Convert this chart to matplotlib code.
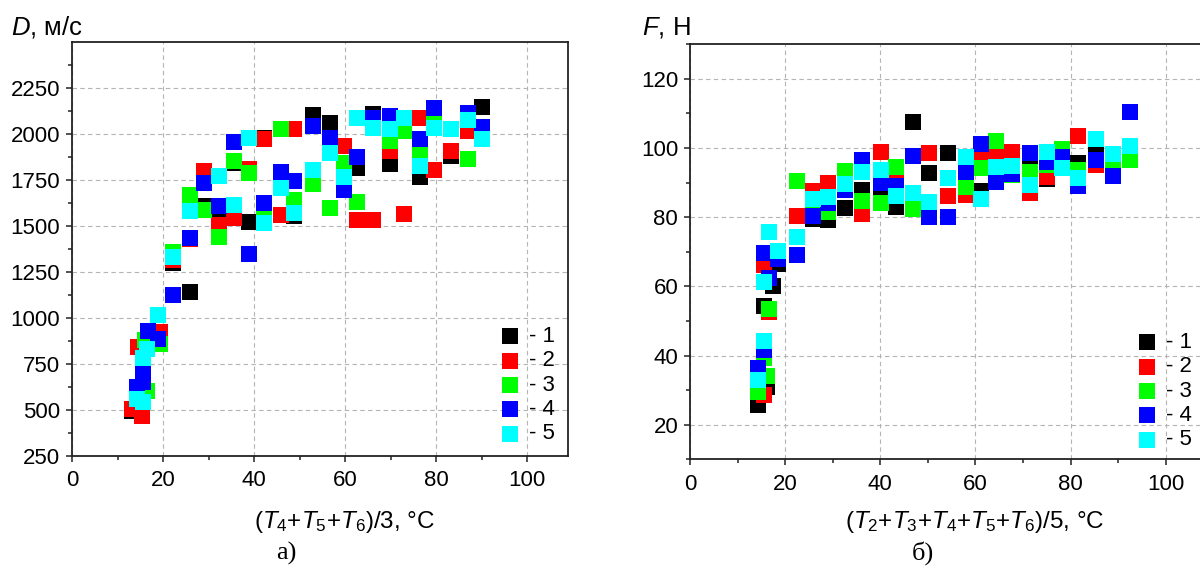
import matplotlib
matplotlib.use('Agg')
import matplotlib.pyplot as plt
import numpy as np

plt.rcParams['font.family'] = ['Liberation Sans', 'DejaVu Sans']
plt.rcParams['mathtext.fontset'] = 'custom'
plt.rcParams['mathtext.rm'] = 'Liberation Sans'
plt.rcParams['mathtext.it'] = 'Liberation Sans:italic'

colors = ['#000000', '#ff0000', '#00ff00', '#0000ff', '#00ffff']
labels = ['- 1', '- 2', '- 3', '- 4', '- 5']

# --- a) D vs (T4+T5+T6)/3
d_x1 = [13.2, 15.5, 19.0, 22.3, 26.0, 29.0, 32.4, 35.5, 39.0, 42.3, 45.9, 48.8, 52.9, 56.6, 62.7, 66.2, 69.9, 76.4, 79.5, 83.2, 90.2]
d_y1 = [495, 640, 880, 1300, 1138, 1605, 1518, 1839, 1518, 1975, 1760, 1555, 2101, 2056, 1815, 2105, 1835, 1763, 2085, 1880, 2143]
d_x2 = [13.2, 15.3, 14.5, 16.5, 19.4, 22.3, 26.0, 29.0, 32.4, 35.5, 39.0, 42.3, 45.9, 48.8, 59.8, 62.7, 66.2, 69.9, 73.0, 76.4, 79.5, 83.2, 87.0]
d_y2 = [505, 466, 840, 870, 925, 1312, 1426, 1799, 1504, 1540, 1810, 1971, 1558, 2025, 1935, 1531, 1531, 1908, 1562, 2083, 1803, 1906, 2015]
d_x3 = [15.5, 16.5, 16.0, 19.4, 22.3, 26.0, 29.0, 32.4, 35.5, 39.0, 42.3, 45.9, 48.8, 52.9, 56.6, 59.8, 62.7, 69.9, 73.0, 76.4, 79.5, 87.0]
d_y3 = [700, 600, 880, 855, 1355, 1667, 1585, 1437, 1851, 1784, 1572, 2025, 1640, 1727, 1594, 1842, 1630, 1960, 2016, 1890, 2100, 1861]
d_x4 = [14.3, 15.6, 15.6, 16.6, 18.9, 22.3, 26.0, 29.0, 32.4, 35.5, 39.0, 42.3, 45.9, 48.8, 52.9, 56.6, 59.8, 62.7, 66.2, 69.9, 76.4, 79.5, 87.0, 90.2]
d_y4 = [621, 652, 720, 928, 884, 1123, 1431, 1730, 1609, 1957, 1346, 1625, 1790, 1745, 2042, 1975, 1694, 1875, 2085, 2096, 1971, 2141, 2110, 2038]
d_x5 = [14.3, 15.7, 15.6, 16.4, 18.9, 22.3, 26.0, 32.4, 35.5, 39.0, 42.3, 45.9, 48.8, 52.9, 56.6, 59.8, 62.7, 66.2, 69.9, 73.0, 76.4, 79.5, 83.2, 87.0, 90.2]
d_y5 = [556, 543, 779, 828, 1015, 1332, 1580, 1770, 1612, 1978, 1516, 1707, 1567, 1803, 1893, 1766, 2083, 2029, 2024, 2083, 1826, 2029, 2025, 2074, 1971]

# --- б) F vs (T2+...+T6)/5
f_x1 = [14.2, 16.2, 15.5, 17.5, 18.6, 25.8, 29.0, 32.5, 36.2, 40.1, 43.3, 46.9, 50.3, 54.2, 61.2, 64.3, 71.5, 75.1, 81.6, 85.3]
f_y1 = [25.6, 31.0, 54.4, 60.0, 66.6, 79.6, 79.2, 82.7, 87.9, 86.6, 83.0, 107.6, 92.9, 98.5, 87.5, 92.5, 95.6, 91.0, 95.8, 99.4]
f_x2 = [15.5, 16.7, 15.5, 22.5, 25.8, 29.0, 36.2, 40.1, 43.3, 50.3, 54.2, 58.0, 61.2, 64.3, 67.7, 71.5, 75.1, 81.6, 85.3, 89.0]
f_y2 = [28.5, 52.5, 66.1, 80.3, 87.5, 89.8, 80.8, 98.8, 91.2, 98.5, 86.2, 86.5, 97.0, 97.8, 99.0, 87.0, 91.7, 103.5, 95.0, 94.6]
f_x3 = [14.2, 16.2, 15.5, 16.7, 22.5, 25.8, 29.0, 32.5, 36.2, 40.1, 43.3, 46.9, 58.0, 61.2, 64.3, 67.7, 71.5, 75.1, 78.3, 81.6, 89.0, 92.4]
f_y3 = [29.5, 34.0, 39.2, 53.6, 90.6, 82.5, 81.4, 93.5, 84.7, 84.0, 94.6, 82.5, 88.6, 94.1, 102.1, 92.2, 93.2, 95.1, 99.7, 93.8, 95.5, 96.5]
f_x4 = [14.2, 15.5, 16.7, 15.5, 18.6, 22.5, 25.8, 29.0, 32.5, 36.2, 40.1, 43.3, 46.9, 50.3, 54.2, 58.0, 61.2, 64.3, 67.7, 71.5, 75.1, 78.3, 81.6, 85.3, 89.0, 92.4]
f_y4 = [36.3, 41.5, 62.3, 69.8, 68.0, 69.2, 80.3, 84.0, 88.0, 96.5, 89.8, 89.0, 97.8, 80.0, 80.0, 93.0, 101.1, 90.3, 92.5, 98.7, 96.0, 97.5, 89.0, 96.5, 91.9, 110.3]
f_x5 = [14.2, 15.5, 15.5, 16.7, 18.6, 22.5, 25.8, 29.0, 32.5, 36.2, 40.1, 43.3, 46.9, 50.3, 54.2, 58.0, 61.2, 64.3, 67.7, 71.5, 75.1, 78.3, 81.6, 85.3, 89.0, 92.4]
f_y5 = [32.9, 44.2, 61.3, 75.8, 70.3, 74.3, 85.4, 85.9, 89.5, 93.2, 93.6, 86.1, 86.9, 84.5, 91.4, 97.5, 85.4, 94.6, 94.9, 89.3, 98.8, 94.1, 91.2, 102.6, 98.3, 100.7]

d_series = [(d_x1, d_y1), (d_x2, d_y2), (d_x3, d_y3), (d_x4, d_y4), (d_x5, d_y5)]
f_series = [(f_x1, f_y1), (f_x2, f_y2), (f_x3, f_y3), (f_x4, f_y4), (f_x5, f_y5)]

fig = plt.figure(figsize=(12, 5.69), dpi=100)
ax1 = fig.add_axes([0.06, 0.1991, 0.4133, 0.7276])
ax2 = fig.add_axes([0.575, 0.1928, 0.4321, 0.7293])


def style(ax, xmaj, xmin, ymaj, ymin, ylim):
    ax.set_xlim(0, 109)
    ax.set_ylim(*ylim)
    ax.set_xticks(xmaj)
    ax.set_xticks(xmin, minor=True)
    ax.set_yticks(ymaj)
    ax.set_yticks(ymin, minor=True)
    ax.grid(True, which='major', color='#b4b4b4', linestyle=(0, (4, 3)), linewidth=0.8)
    ax.set_axisbelow(True)
    ax.tick_params(which='major', direction='out', length=4.5, width=1.1, labelsize=16, color='#222222', pad=4)
    ax.tick_params(which='minor', direction='out', length=2.8, width=1.1, color='#222222')
    ax.tick_params(axis='x', which='major', pad=6)
    for s in ax.spines.values():
        s.set_linewidth(1.3)
        s.set_color('#222222')


for (x, y), c, lab in zip(d_series, colors, labels):
    ax1.scatter(x, y, marker='s', s=118, color=c, linewidths=0, label=lab, zorder=3)
for (x, y), c, lab in zip(f_series, colors, labels):
    ax2.scatter(x, y, marker='s', s=118, color=c, linewidths=0, label=lab, zorder=3)

style(ax1, np.arange(0, 101, 20), np.arange(10, 110, 20), np.arange(250, 2251, 250),
      np.arange(375, 2500, 250), (250, 2500))
style(ax2, np.arange(0, 101, 20), np.arange(10, 110, 20), np.arange(20, 121, 20),
      np.arange(10, 131, 10), (10, 130))

leg_kw = dict(frameon=False, fontsize=16, handlelength=0.68, handletextpad=0.55,
              labelspacing=0.15, borderpad=0, borderaxespad=0, scatterpoints=1, loc='upper left')
ax1.legend(bbox_to_anchor=(502 / 1200, 1 - 326 / 569), bbox_transform=fig.transFigure, **leg_kw)
ax2.legend(bbox_to_anchor=(1139 / 1200, 1 - 332 / 569), bbox_transform=fig.transFigure, **leg_kw)

fig.text(11 / 1200, 1 - 27 / 569, r'$D$, м/с', fontsize=18.5, ha='left', va='center')
fig.text(642 / 1200, 1 - 27 / 569, r'$F$, Н', fontsize=18.5, ha='left', va='center')
fig.text(345 / 1200, 1 - 522 / 569, r'($T_4$+$T_5$+$T_6$)/3, °C', fontsize=17.5, ha='center', va='center')
fig.text(975 / 1200, 1 - 522 / 569, r'($T_2$+$T_3$+$T_4$+$T_5$+$T_6$)/5, °C', fontsize=17.5, ha='center', va='center')
fig.text(286 / 1200, 1 - 553 / 569, 'а)', fontsize=19, family='Liberation Serif', ha='center', va='center')
fig.text(923 / 1200, 1 - 553 / 569, 'б)', fontsize=19, family='Liberation Serif', ha='center', va='center')

fig.savefig('out.png', dpi=100)
